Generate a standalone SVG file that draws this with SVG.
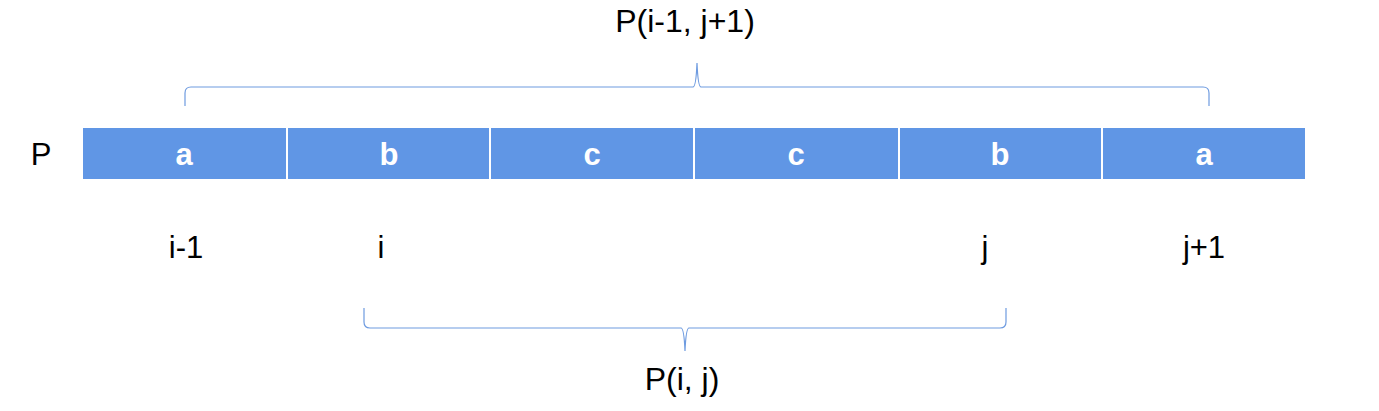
<svg xmlns="http://www.w3.org/2000/svg" width="1379" height="411" viewBox="0 0 1379 411">
<style>
.cell{fill:#6096e5}
.cl{font-family:"Liberation Sans",Arial,sans-serif;font-size:31px;font-weight:bold;fill:#fff;text-anchor:middle}
.t{font-family:"Liberation Sans",Arial,sans-serif;font-size:31px;fill:#000;text-anchor:middle}
.ti{font-family:"Liberation Sans",Arial,sans-serif;font-size:32px;fill:#000;text-anchor:middle}
.br{fill:none;stroke:#6e9be0;stroke-width:1.2}
</style>
<rect width="1379" height="411" fill="#fff"/>
<text class="t" x="41" y="165">P</text>
<g id="cell1"><rect class="cell" x="83" y="128" width="203" height="51"/><text class="cl" x="184" y="165">a</text></g>
<g id="cell2"><rect class="cell" x="288" y="128" width="201" height="51"/><text class="cl" x="389" y="165">b</text></g>
<g id="cell3"><rect class="cell" x="491" y="128" width="202" height="51"/><text class="cl" x="592" y="165">c</text></g>
<g id="cell4"><rect class="cell" x="695" y="128" width="203" height="51"/><text class="cl" x="796" y="165">c</text></g>
<g id="cell5"><rect class="cell" x="900" y="128" width="201" height="51"/><text class="cl" x="1000" y="165">b</text></g>
<g id="cell6"><rect class="cell" x="1103" y="128" width="202" height="51"/><text class="cl" x="1204" y="165">a</text></g>
<g id="indices">
<text class="t" x="186" y="258">i-1</text>
<text class="t" x="381" y="258">i</text>
<text class="t" x="985" y="258">j</text>
<text class="t" x="1204" y="258">j+1</text>
</g>
<g id="connectors">
<path class="br" d="M185,106 V93 Q185,87 191,87 H693 Q696,87 697,63 Q698,87 701,87 H1203 Q1209,87 1209,93 V106"/>
<path class="br" d="M364,308 V322 Q364,328 370,328 H681 Q684,328 685,351 Q686,328 689,328 H1000 Q1006,328 1006,322 V308"/>
</g>
<g id="labels">
<text class="ti" x="685" y="32">P(i-1, j+1)</text>
<text class="ti" x="682" y="390">P(i, j)</text>
</g>
</svg>
